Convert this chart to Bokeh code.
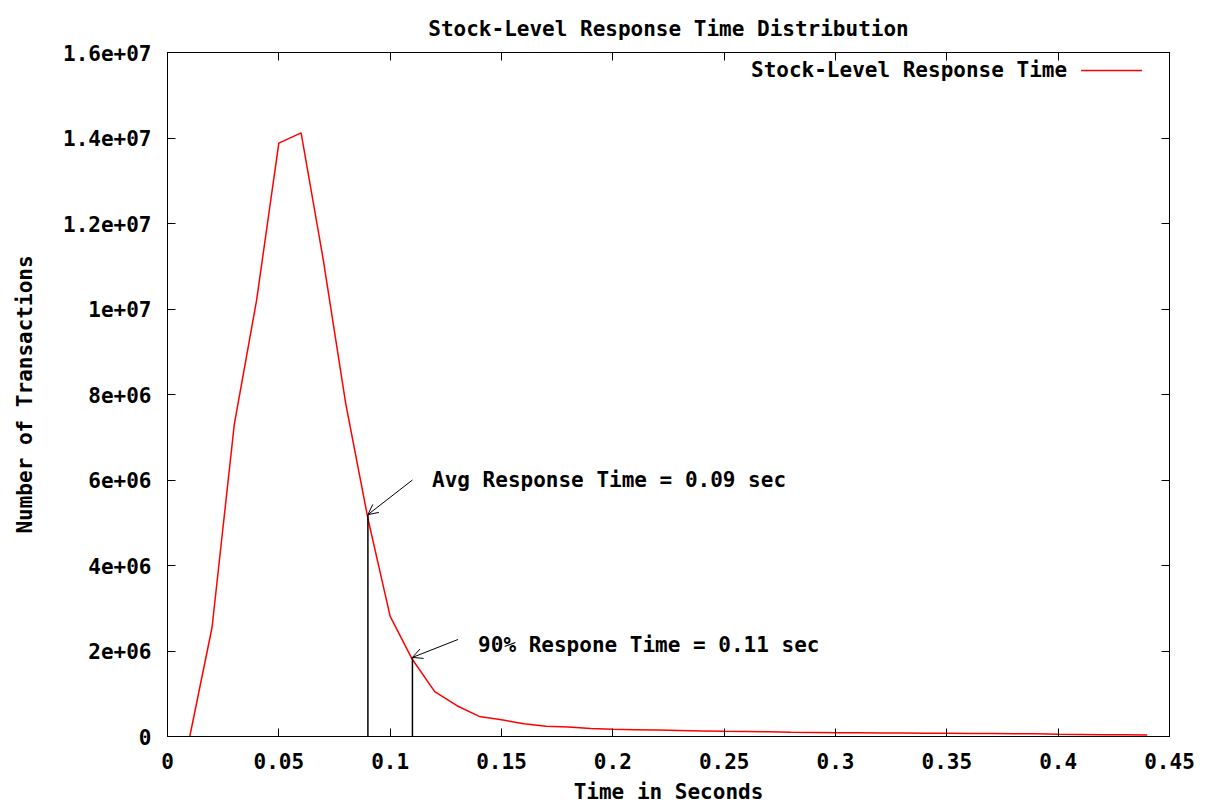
from bokeh.plotting import figure
from bokeh.models import (FixedTicker, LinearAxis, Label, Arrow, OpenHead, Range1d)
from bokeh.embed import file_html
from bokeh.resources import INLINE

# ---- data ----
time_s = [0.01, 0.02, 0.03, 0.04, 0.05, 0.06, 0.07, 0.08, 0.09, 0.10,
          0.11, 0.12, 0.13, 0.14, 0.15, 0.16, 0.17, 0.18, 0.19, 0.20,
          0.21, 0.22, 0.23, 0.24, 0.25, 0.26, 0.27, 0.28, 0.29, 0.30,
          0.31, 0.32, 0.33, 0.34, 0.35, 0.36, 0.37, 0.38, 0.39, 0.40,
          0.41, 0.42, 0.43, 0.44]
transactions = [0, 2.55e6, 7.3e6, 10.2e6, 13.88e6, 14.12e6, 11.14e6, 7.8e6, 5.1e6, 2.81e6,
                1.80e6, 1.05e6, 0.72e6, 0.47e6, 0.39e6, 0.30e6, 0.24e6, 0.22e6, 0.19e6, 0.17e6,
                0.16e6, 0.15e6, 0.14e6, 0.13e6, 0.12e6, 0.115e6, 0.11e6, 0.10e6, 0.095e6, 0.09e6,
                0.085e6, 0.08e6, 0.08e6, 0.075e6, 0.075e6, 0.07e6, 0.07e6, 0.065e6, 0.065e6, 0.05e6,
                0.045e6, 0.04e6, 0.04e6, 0.035e6]

avg_time = 0.09
avg_count = 5.19e6
p90_time = 0.11
p90_count = 1.85e6
avg_text = "Avg Response Time = 0.09 sec"
p90_text = "90% Respone Time = 0.11 sec"

x_ticks = [0, 0.05, 0.1, 0.15, 0.2, 0.25, 0.3, 0.35, 0.4, 0.45]
x_tick_labels = ["0", "0.05", "0.1", "0.15", "0.2", "0.25", "0.3", "0.35", "0.4", "0.45"]
y_ticks = [0, 2e6, 4e6, 6e6, 8e6, 10e6, 12e6, 14e6, 16e6]
y_tick_labels = ["0", "2e+06", "4e+06", "6e+06", "8e+06", "1e+07", "1.2e+07", "1.4e+07", "1.6e+07"]

title_text = "Stock-Level Response Time Distribution"
x_label = "Time in Seconds"
y_label = "Number of Transactions"
series_name = "Stock-Level Response Time"

FONT = "DejaVu Sans Mono"
FS = "21px"

W, H = 1197, 806
p = figure(width=W, height=H, output_backend="svg", toolbar_location=None,
           x_range=Range1d(0, 0.45), y_range=Range1d(0, 1.6e7),
           min_border_left=167, min_border_right=W - 1169, min_border_top=52, min_border_bottom=H - 737,
           title=title_text)
p.title.align = "center"
p.title.text_font = FONT
p.title.text_font_size = FS
p.title.text_font_style = "bold"
p.title.text_color = "black"
p.title.standoff = 24
p.xgrid.visible = False
p.ygrid.visible = False
p.outline_line_color = "black"
p.outline_line_width = 1
p.background_fill_color = "white"
p.border_fill_color = "white"

def style_axis(ax, ticks, labels, show):
    ax.ticker = FixedTicker(ticks=ticks)
    ax.major_label_overrides = {t: (l if show else "") for t, l in zip(ticks, labels)}
    ax.major_tick_in = 8
    ax.major_tick_out = 0
    ax.minor_tick_in = 0
    ax.minor_tick_out = 0
    ax.major_tick_line_color = "black"
    ax.axis_line_color = "black"
    ax.major_label_text_font = FONT
    ax.major_label_text_font_size = FS if show else "1px"
    ax.major_label_text_font_style = "bold"
    ax.major_label_text_color = "black"
    ax.axis_label_text_font = FONT
    ax.axis_label_text_font_size = FS
    ax.axis_label_text_font_style = "bold"
    ax.axis_label_text_color = "black"

style_axis(p.xaxis[0], x_ticks, x_tick_labels, True)
style_axis(p.yaxis[0], y_ticks, y_tick_labels, True)
p.xaxis[0].axis_label = x_label
p.yaxis[0].axis_label = y_label
p.xaxis[0].major_label_standoff = 16
p.yaxis[0].major_label_standoff = 16
p.xaxis[0].axis_label_standoff = 8
p.yaxis[0].axis_label_standoff = 23

top_ax = LinearAxis()
right_ax = LinearAxis()
style_axis(top_ax, x_ticks, x_tick_labels, False)
style_axis(right_ax, y_ticks, y_tick_labels, False)
top_ax.major_label_standoff = 0
right_ax.major_label_standoff = 0
p.add_layout(top_ax, "above")
p.add_layout(right_ax, "right")

# curve
p.line(time_s, transactions, line_color="#ff0000", line_width=1.5)

# vertical markers
p.segment(x0=[avg_time, p90_time], y0=[0, 0], x1=[avg_time, p90_time], y1=[avg_count, p90_count],
          line_color="black", line_width=1.5)

# arrows
p.add_layout(Arrow(x_start=0.110, y_start=6.0e6, x_end=avg_time, y_end=avg_count,
                   line_color="black", line_width=1,
                   end=OpenHead(size=10, line_color="black", line_width=1)))
p.add_layout(Arrow(x_start=0.1305, y_start=2.27e6, x_end=p90_time, y_end=p90_count,
                   line_color="black", line_width=1,
                   end=OpenHead(size=10, line_color="black", line_width=1)))

p.add_layout(Label(x=0.1188, y=6.0e6, text=avg_text, text_baseline="middle",
                   text_font=FONT, text_font_size=FS, text_font_style="bold", text_color="black"))
p.add_layout(Label(x=0.1395, y=2.15e6, text=p90_text, text_baseline="middle",
                   text_font=FONT, text_font_size=FS, text_font_style="bold", text_color="black"))

# legend (text then sample line, gnuplot style) inside the top-right corner
p.add_layout(Label(x=0.404, y=15.58e6, text=series_name,
                   text_align="right", text_baseline="middle",
                   text_font=FONT, text_font_size=FS, text_font_style="bold", text_color="black"))
p.add_layout(Arrow(x_start=0.4103, y_start=15.58e6, x_end=0.4377, y_end=15.58e6,
                   start=None, end=None, line_color="#ff0000", line_width=1.5))

open("out.html", "w").write(file_html(p, INLINE))
